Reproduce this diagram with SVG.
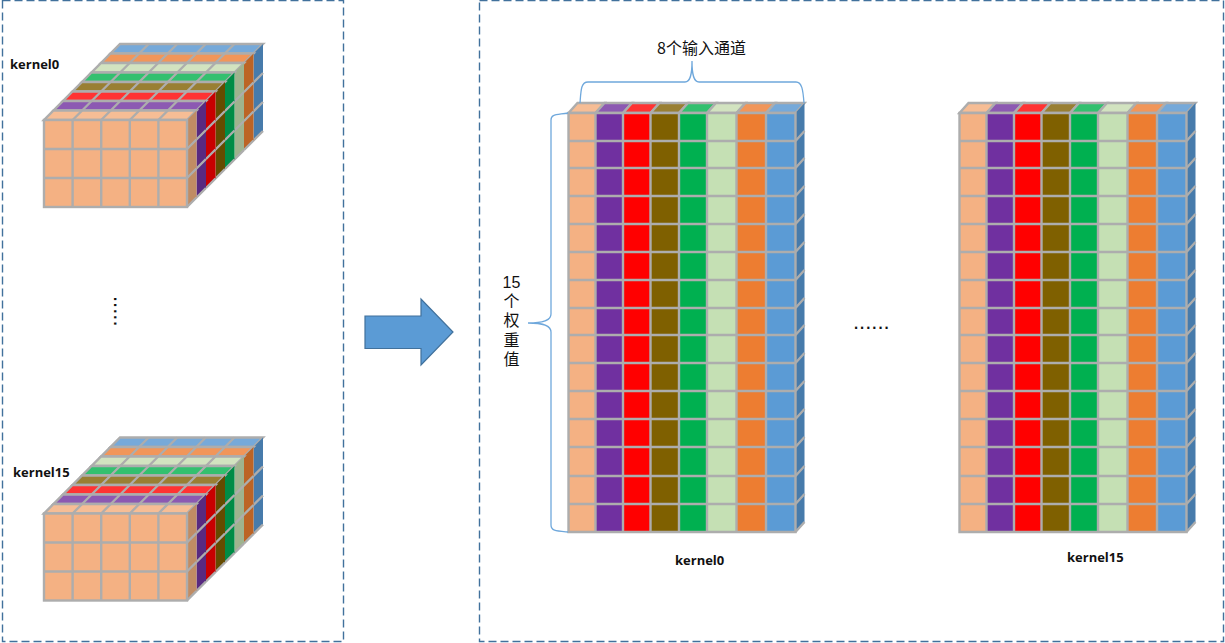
<svg xmlns="http://www.w3.org/2000/svg" width="1225" height="643" viewBox="0 0 1225 643">
<style>
.panel{fill:none;stroke:#41719c;stroke-width:1.4;stroke-dasharray:8 4}
.g{stroke:#adadad;stroke-width:2.4;stroke-linejoin:miter}
.t{fill:var(--t)}
.s{fill:var(--s)}
.ln{fill:none;stroke:#adadad;stroke-width:2.400}
.brace{fill:none;stroke:#6fa8dc;stroke-width:1.3}
text{font-family:"Open Sans","Noto Sans CJK SC",sans-serif;fill:#111}
.b{font-weight:700;font-size:13px}
.c{font-size:16px;font-family:"Noto Sans CJK SC","Open Sans",sans-serif}
.v{font-size:16px;font-family:"Liberation Sans","Noto Sans CJK SC",sans-serif}
.d{font-family:"Liberation Sans",sans-serif;font-size:22px}
</style>
<defs>
<g id="slab">
<polygon class="t g" points="0,0 143,0 152.500,-9.500 9.500,-9.500"/>
<polygon class="s" points="143,0 152.500,-9.500 152.500,77.500 143,87"/>
<path class="ln" d="M28.600,0l9.500,-9.500M57.200,0l9.500,-9.500M85.800,0l9.500,-9.500M114.400,0l9.500,-9.500M143,29l9.500,-9.500M143,58l9.500,-9.500M143,87l9.500,-9.500"/>
</g>
<g id="cube">
<use href="#slab" transform="translate(66.500,-66.500)" style="--t:#76a9d9;--s:#477bab"/>
<use href="#slab" transform="translate(57,-57)" style="--t:#f1965a;--s:#bc6425"/>
<use href="#slab" transform="translate(47.500,-47.500)" style="--t:#d2e3c0;--s:#9fb38e"/>
<use href="#slab" transform="translate(38,-38)" style="--t:#33c06f;--s:#008c46"/>
<use href="#slab" transform="translate(28.500,-28.500)" style="--t:#997f33;--s:#654b00"/>
<use href="#slab" transform="translate(19,-19)" style="--t:#ff3333;--s:#c80000"/>
<use href="#slab" transform="translate(9.500,-9.500)" style="--t:#8c59b2;--s:#582a80"/>
<use href="#slab" style="--t:#f6bd95;--s:#c08c64"/>
<rect class="g" x="0" y="0" width="143" height="87" fill="#f4b183"/>
<path class="ln" d="M28.600,0v87M57.200,0v87M85.800,0v87M114.400,0v87M0,29h143M0,58h143"/>
</g>
<g id="block">
<polygon class="g" fill="#f6bd95" points="0,0 27,0 36,-10 9,-10"/>
<polygon class="g" fill="#8c59b2" points="27,0 54.500,0 63.500,-10 36,-10"/>
<polygon class="g" fill="#ff3333" points="54.500,0 82,0 91,-10 63.500,-10"/>
<polygon class="g" fill="#997f33" points="82,0 110.500,0 119.500,-10 91,-10"/>
<polygon class="g" fill="#33c06f" points="110.500,0 138.500,0 147.500,-10 119.500,-10"/>
<polygon class="g" fill="#d2e3c0" points="138.500,0 168,0 177,-10 147.500,-10"/>
<polygon class="g" fill="#f1965a" points="168,0 197.500,0 206.500,-10 177,-10"/>
<polygon class="g" fill="#76a9d9" points="197.500,0 227,0 236,-10 206.500,-10"/>
<polygon fill="#477bab" points="227,0 236,-10 236,409 227,419"/>
<rect x="0" y="0" width="27" height="419" fill="#f4b183"/>
<rect x="27" y="0" width="27.500" height="419" fill="#7030a0"/>
<rect x="54.500" y="0" width="27.500" height="419" fill="#ff0000"/>
<rect x="82" y="0" width="28.500" height="419" fill="#7f6000"/>
<rect x="110.500" y="0" width="28" height="419" fill="#00b050"/>
<rect x="138.500" y="0" width="29.500" height="419" fill="#c5e0b4"/>
<rect x="168" y="0" width="29.500" height="419" fill="#ed7d31"/>
<rect x="197.500" y="0" width="29.500" height="419" fill="#5b9bd5"/>
<path class="ln" d="M0,0h227v419h-227zM27,0v419M54.500,0v419M82,0v419M110.500,0v419M138.500,0v419M168,0v419M197.500,0v419"/>
<path class="ln" d="M0,28h227M0,55h227M0,83h227M0,111h227M0,139h227M0,167h227M0,195h227M0,222h227M0,250h227M0,278h227M0,306h227M0,334h227M0,363h227M0,391h227"/>
<path class="ln" d="M227,28l9,-10M227,55l9,-10M227,83l9,-10M227,111l9,-10M227,139l9,-10M227,167l9,-10M227,195l9,-10M227,222l9,-10M227,250l9,-10M227,278l9,-10M227,306l9,-10M227,334l9,-10M227,363l9,-10M227,391l9,-10M227,419l9,-10"/>
</g>
</defs>
<rect width="1225" height="643" fill="#fff"/>
<g id="panel-left"><rect class="panel" x="2.500" y="0.500" width="341" height="641"/></g>
<g id="panel-right"><rect class="panel" x="479.500" y="0.500" width="744" height="641"/></g>
<g id="cube-kernel0"><use href="#cube" x="44" y="120"/><text class="b" x="10" y="69">kernel0</text></g>
<g id="cube-kernel15"><use href="#cube" x="44" y="513.500"/><text class="b" x="13" y="477">kernel15</text></g>
<g id="dots-left"><text class="d" x="0" y="0" transform="translate(113.500,296) rotate(90)">.....</text></g>
<g id="arrow"><polygon points="365,316 421,316 421,299 453,332 421,365 421,348.500 365,348.500" fill="#5b9bd5" stroke="#41719c" stroke-width="1.200"/></g>
<g id="block-kernel0"><use href="#block" x="568.500" y="113"/><text class="b" x="675" y="565">kernel0</text></g>
<g id="block-kernel15"><use href="#block" x="959.500" y="113"/><text class="b" x="1067" y="562">kernel15</text></g>
<g id="connectors">
<path class="brace" d="M580,103C581,90 581,82 588,82H685C690,82 692,76 692,61C692,76 694,82 699,82H796C802,82 803,90 804,103"/>
<path class="brace" d="M568,113C556,115 551,114 551,120V314C551,320 545,323 528,323C545,323 551,326 551,332V525C551,531 556,531 568,532"/>
</g>
<g id="labels">
<text class="c" x="701.500" y="54" text-anchor="middle">8个输入通道</text>
<text class="v" text-anchor="middle"><tspan x="511.500" y="288">15</tspan><tspan x="511.500" y="307">个</tspan><tspan x="511.500" y="326">权</tspan><tspan x="511.500" y="345.500">重</tspan><tspan x="511.500" y="365">值</tspan></text>
<text class="d" x="853" y="328.500">......</text>
</g>
</svg>
